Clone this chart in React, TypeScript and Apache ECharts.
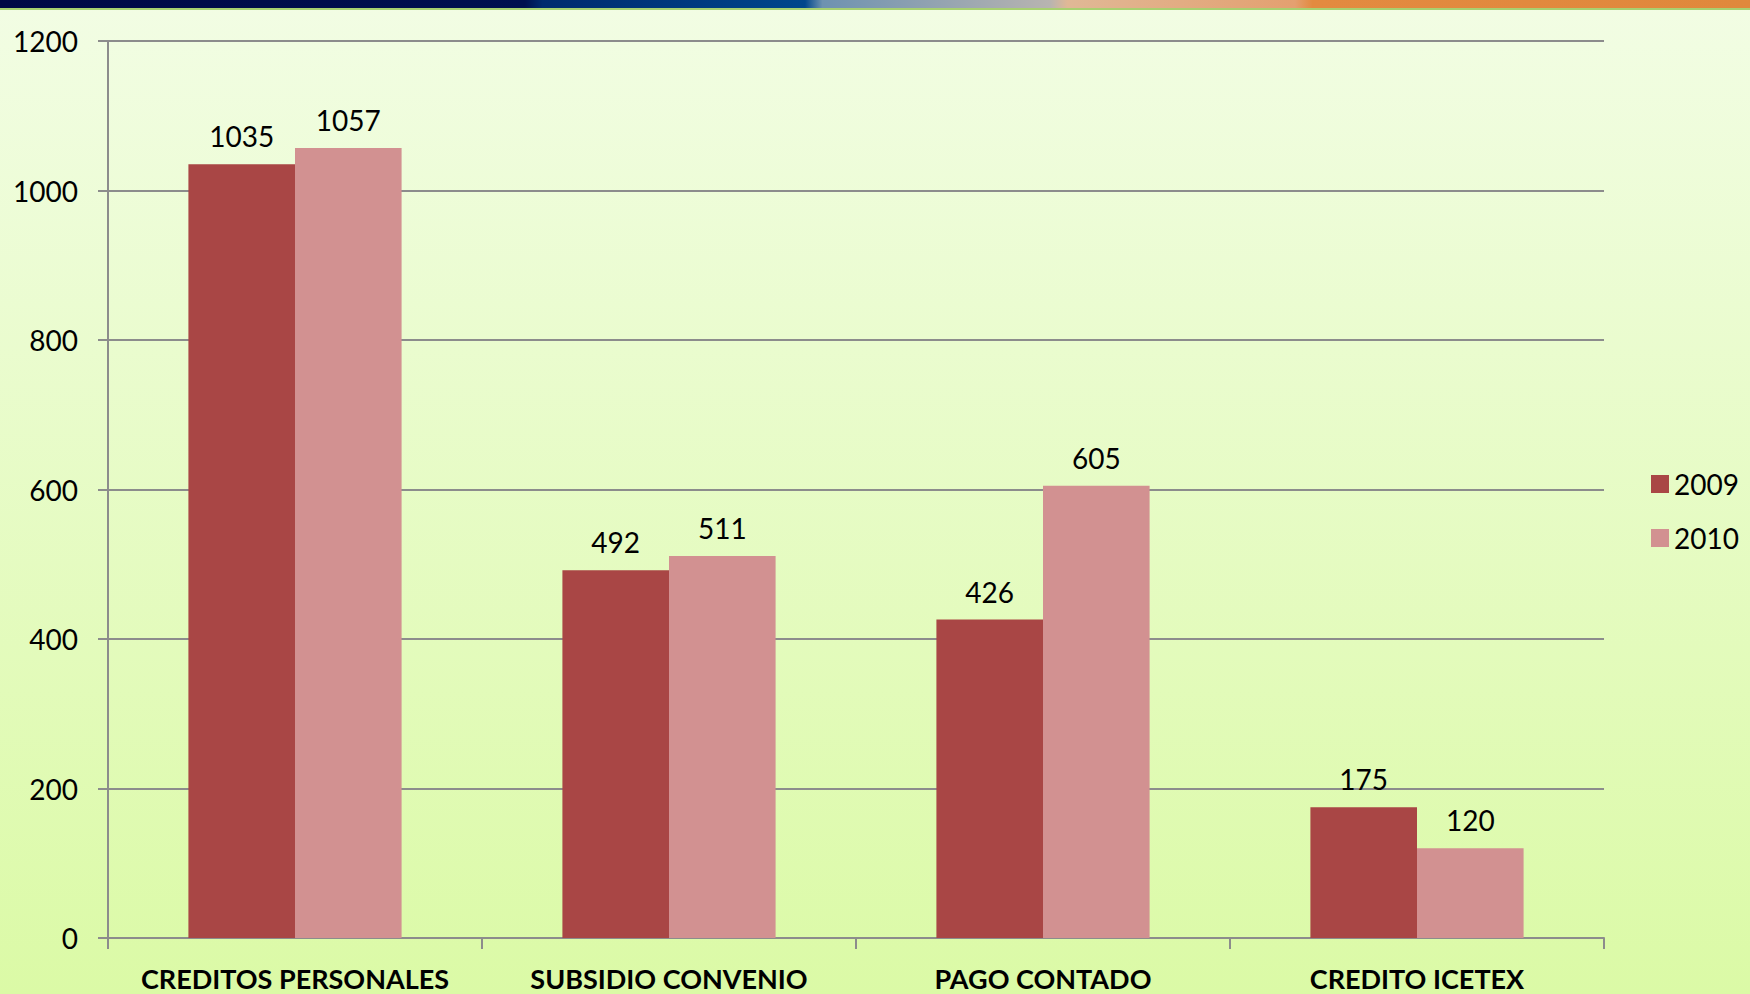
import React, { useEffect, useRef } from "react";
import * as echarts from "echarts";

const categories = ["CREDITOS PERSONALES", "SUBSIDIO CONVENIO", "PAGO CONTADO", "CREDITO ICETEX"];
const series2009 = [1035, 492, 426, 175];
const series2010 = [1057, 511, 605, 120];
const seriesNames = ["2009", "2010"];
const yTicks = { min: 0, max: 1200, interval: 200 };

export default function App() {
  const ref = useRef<HTMLDivElement>(null);
  useEffect(() => {
    if (!ref.current) return;
    const chart = echarts.init(ref.current, null, { renderer: "svg" });
    const font = "Lato, 'Open Sans', sans-serif";
    chart.setOption({
      animation: false,
      backgroundColor: new echarts.graphic.LinearGradient(0, 0, 0, 1, [
        { offset: 0, color: "#f2fde4" },
        { offset: 1, color: "#dbfaa6" },
      ]),
      graphic: [
        {
          type: "rect",
          left: 0,
          top: 0,
          shape: { width: 1750, height: 8 },
          style: {
            fill: new echarts.graphic.LinearGradient(0, 0, 1, 0, [
              { offset: 0, color: "#000845" },
              { offset: 0.3, color: "#00104f" },
              { offset: 0.31, color: "#002a6e" },
              { offset: 0.46, color: "#00468c" },
              { offset: 0.47, color: "#6e92b0" },
              { offset: 0.6, color: "#b8b4b0" },
              { offset: 0.61, color: "#e0b896" },
              { offset: 0.74, color: "#e4a070" },
              { offset: 0.75, color: "#e38a40" },
              { offset: 1, color: "#e0883c" },
            ]),
          },
        },
        {
          type: "rect",
          left: 0,
          top: 8,
          shape: { width: 1750, height: 2 },
          style: { fill: "#a8d070" },
        },
      ],
      grid: { left: 108, right: 146, top: 41, bottom: 56, containLabel: false },
      legend: {
        orient: "vertical",
        left: 1646,
        top: 465,
        itemWidth: 18,
        itemHeight: 18,
        itemGap: 26,
        icon: "rect",
        textStyle: { fontFamily: font, fontSize: 28, color: "#000" },
        data: seriesNames,
      },
      xAxis: {
        type: "category",
        data: categories,
        axisLine: { lineStyle: { color: "#8c8c8c", width: 2 } },
        axisTick: { show: true, length: 11, lineStyle: { color: "#8c8c8c", width: 2 } },
        axisLabel: {
          fontFamily: font,
          fontWeight: "bold",
          fontSize: 27,
          color: "#000",
          margin: 27,
          interval: 0,
        },
      },
      yAxis: {
        type: "value",
        min: yTicks.min,
        max: yTicks.max,
        interval: yTicks.interval,
        axisLine: { show: true, lineStyle: { color: "#8c8c8c", width: 2 } },
        axisTick: { show: true, length: 10, lineStyle: { color: "#8c8c8c", width: 2 } },
        splitLine: { lineStyle: { color: "#8c8c8c", width: 2 } },
        axisLabel: {
          fontFamily: font,
          fontSize: 28,
          color: "#000",
          margin: 30,
          formatter: (v: number) => String(v),
        },
      },
      series: [
        {
          name: seriesNames[0],
          type: "bar",
          data: series2009,
          barGap: "0%",
          barCategoryGap: "43%",
          itemStyle: { color: "#a94645" },
          label: { show: true, position: "top", distance: 14, fontFamily: font, fontSize: 28, color: "#000" },
        },
        {
          name: seriesNames[1],
          type: "bar",
          data: series2010,
          itemStyle: { color: "#d29191" },
          label: { show: true, position: "top", distance: 14, fontFamily: font, fontSize: 28, color: "#000" },
        },
      ],
    });
    return () => chart.dispose();
  }, []);
  return (
    <div
      ref={ref}
      style={{ position: "fixed", left: 0, top: 0, width: 1750, height: 994 }}
    />
  );
}
